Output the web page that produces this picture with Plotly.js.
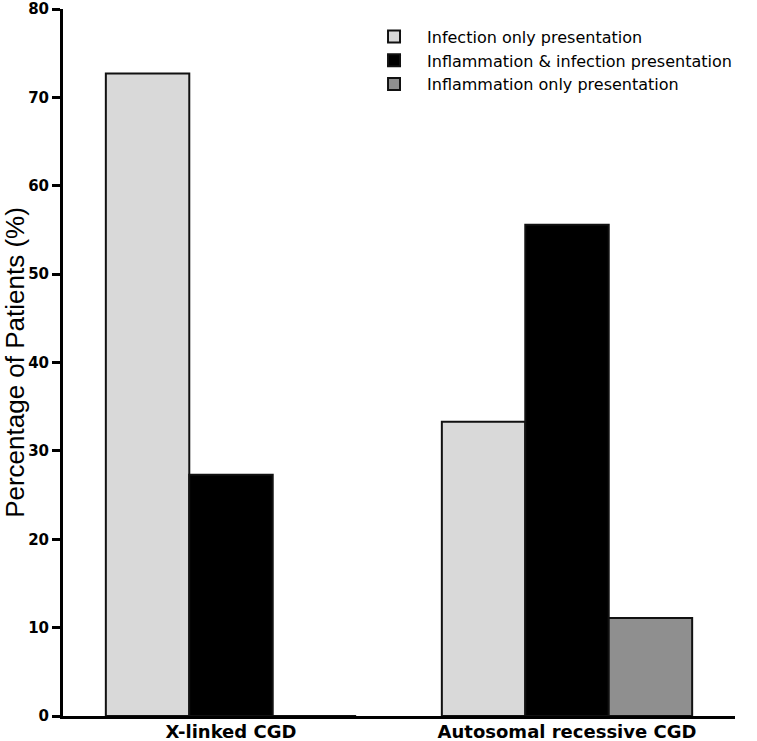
<!DOCTYPE html>
<html>
<head>
<meta charset="utf-8">
<script src="https://cdn.plot.ly/plotly-3.0.1.min.js"></script>
<style>html,body{margin:0;padding:0;background:#fff;}#chart{width:757px;height:741px;}</style>
</head>
<body>
<div id="chart"></div>
<script>
const categories = ["X-linked CGD", "Autosomal recessive CGD"];
const seriesNames = ["Infection only presentation", "Inflammation & infection presentation", "Inflammation only presentation"];
const infectionOnly = [72.7, 33.3];
const inflammationInfection = [27.3, 55.6];
const inflammationOnly = [0, 11.1];
const yTicks = [0, 10, 20, 30, 40, 50, 60, 70, 80];

const colors = ["#d9d9d9", "#000000", "#8f8f8f"];
const values = [infectionOnly, inflammationInfection, inflammationOnly];

const traces = values.map((v, i) => ({
  type: "bar",
  name: seriesNames[i],
  x: categories,
  y: v,
  marker: {color: colors[i], line: {color: "#111", width: 2}},
  hoverinfo: "none"
}));

const layout = {
  width: 757, height: 741,
  margin: {l: 63, r: 22, t: 9, b: 25},
  paper_bgcolor: "#fff", plot_bgcolor: "#fff",
  barmode: "group",
  bargap: 0.255,
  bargroupgap: 0,
  font: {family: "Liberation Sans, Arial, sans-serif", color: "#000"},
  xaxis: {
    range: [-0.5, 1.5],
    showline: true, linewidth: 3, linecolor: "#000",
    ticks: "", showgrid: false, zeroline: false,
    tickfont: {size: 18, family: "DejaVu Sans", weight: "bold"},
    ticklabelstandoff: -3
  },
  yaxis: {
    range: [0, 80],
    tickvals: yTicks,
    ticktext: yTicks.map(String),
    showline: true, linewidth: 3, linecolor: "#000",
    ticks: "outside", ticklen: 8, tickwidth: 3, tickcolor: "#000",
    showgrid: false, zeroline: false,
    tickfont: {size: 15, family: "DejaVu Sans", weight: "bold"},
    title: {text: "Percentage of Patients (%)", font: {size: 26, family: "Liberation Sans, Arial, sans-serif"}, standoff: 2}
  },
  legend: {
    x: 0.4435, y: 0.985, xanchor: "left", yanchor: "top",
    font: {size: 16, family: "DejaVu Sans"}, bgcolor: "rgba(0,0,0,0)", tracegroupgap: 0,
    traceorder: "normal", itemwidth: 56
  },
  showlegend: true
};

Plotly.newPlot("chart", traces, layout, {displayModeBar: false, staticPlot: true});
</script>
</body>
</html>
